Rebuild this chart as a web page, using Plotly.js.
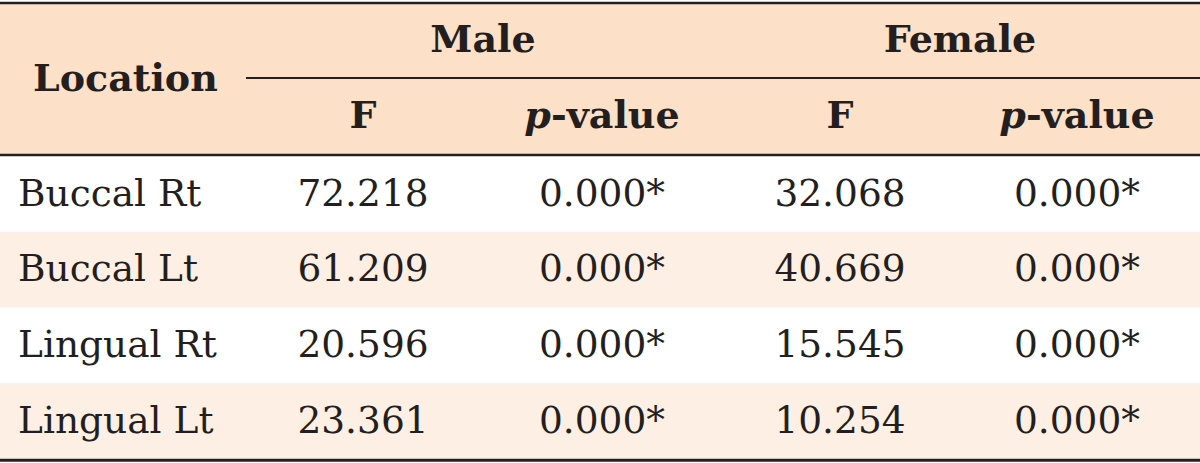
<!DOCTYPE html>
<html>
<head>
<meta charset="utf-8">
<script src="https://cdn.plot.ly/plotly-3.0.1.min.js"></script>
<style>html,body{margin:0;padding:0;background:#fff;}#chart{width:1200px;height:463px;}</style>
</head>
<body>
<div id="chart"></div>
<script>
// ---- data ----
var stubHeader = 'Location';
var groups = ['Male', 'Female'];
var subHeaders = ['F', '<i>p</i>-value'];
var locations = ['Buccal Rt', 'Buccal Lt', 'Lingual Rt', 'Lingual Lt'];
var maleF = [72.218, 61.209, 20.596, 23.361];
var maleP = [0.000, 0.000, 0.000, 0.000];
var femaleF = [32.068, 40.669, 15.545, 10.254];
var femaleP = [0.000, 0.000, 0.000, 0.000];
var significant = [true, true, true, true];

// ---- layout constants ----
var W = 1200, H = 463;
var ink = '#231F20';
var headBg = '#FDE0C8';
var stripeBg = '#FEEFE4';
var font = 'DejaVu Serif, Georgia, serif';
var colX = [363, 602, 840, 1077];          // centres of F / p columns
var groupX = [483, 960];
var stubX = 18, stubHeadX = 33;
var headTop = 4, headBottom = 155, subRuleY = 78;
var rowTop = 156, rowH = 75.7;
var bodySize = 37.5, headSize = 38;
var bodyShift = 2.5;

function fmtF(v) { return v.toFixed(3); }
function fmtP(v, s) { return v.toFixed(3) + (s ? '*' : ''); }

var rowY = locations.map(function (_, i) { return rowTop + rowH * (i + 0.5) + bodyShift; });

var traces = [];
// stub header
traces.push({x: [stubHeadX], y: [(headTop + headBottom) / 2 + 2], text: ['<b>' + stubHeader + '</b>'],
  mode: 'text', textposition: 'middle right', textfont: {family: font, size: headSize, color: ink},
  hoverinfo: 'skip', showlegend: false});
// group headers
traces.push({x: groupX, y: groups.map(function () { return (headTop + subRuleY) / 2 + 1.5; }),
  text: groups.map(function (g) { return '<b>' + g + '</b>'; }),
  mode: 'text', textposition: 'middle center', textfont: {family: font, size: headSize, color: ink},
  hoverinfo: 'skip', showlegend: false});
// sub headers
var subX = [], subT = [], subY = [];
groups.forEach(function (g, gi) {
  subHeaders.forEach(function (s, si) {
    subX.push(colX[gi * 2 + si]); subT.push('<b>' + s + '</b>'); subY.push((subRuleY + headBottom) / 2 + 1.5);
  });
});
traces.push({x: subX, y: subY, text: subT, mode: 'text', textposition: 'middle center',
  textfont: {family: font, size: headSize, color: ink}, hoverinfo: 'skip', showlegend: false});
// stub column
traces.push({x: locations.map(function () { return stubX; }), y: rowY, text: locations,
  mode: 'text', textposition: 'middle right', textfont: {family: font, size: bodySize, color: ink},
  hoverinfo: 'skip', showlegend: false});
// value columns
var cols = [
  maleF.map(fmtF),
  maleP.map(function (v, i) { return fmtP(v, significant[i]); }),
  femaleF.map(fmtF),
  femaleP.map(function (v, i) { return fmtP(v, significant[i]); })
];
cols.forEach(function (c, ci) {
  traces.push({x: c.map(function () { return colX[ci]; }), y: rowY, text: c,
    mode: 'text', textposition: 'middle center', textfont: {family: font, size: bodySize, color: ink},
    hoverinfo: 'skip', showlegend: false});
});

var shapes = [];
shapes.push({type: 'rect', xref: 'x', yref: 'y', x0: 0, x1: W, y0: headTop, y1: headBottom,
  fillcolor: headBg, line: {width: 0}, layer: 'below'});
locations.forEach(function (_, i) {
  if (i % 2 === 1) {
    shapes.push({type: 'rect', xref: 'x', yref: 'y', x0: 0, x1: W, y0: rowTop + rowH * i, y1: rowTop + rowH * (i + 1),
      fillcolor: stripeBg, line: {width: 0}, layer: 'below'});
  }
});
function hline(y, x0, x1, w) {
  shapes.push({type: 'line', xref: 'x', yref: 'y', x0: x0, x1: x1, y0: y, y1: y, line: {color: ink, width: w}});
}
hline(3, 0, W, 2.5);
hline(subRuleY, 246, W, 2);
hline(headBottom, 0, W, 2.5);
hline(rowTop + rowH * locations.length + 1.5, 0, W, 3);

var layout = {
  width: W, height: H,
  margin: {l: 0, r: 0, t: 0, b: 0, pad: 0},
  paper_bgcolor: '#ffffff', plot_bgcolor: '#ffffff',
  xaxis: {range: [0, W], visible: false, fixedrange: true},
  yaxis: {range: [H, 0], visible: false, fixedrange: true},
  shapes: shapes,
  showlegend: false
};
Plotly.newPlot('chart', traces, layout, {staticPlot: true, displayModeBar: false});
</script>
</body>
</html>
